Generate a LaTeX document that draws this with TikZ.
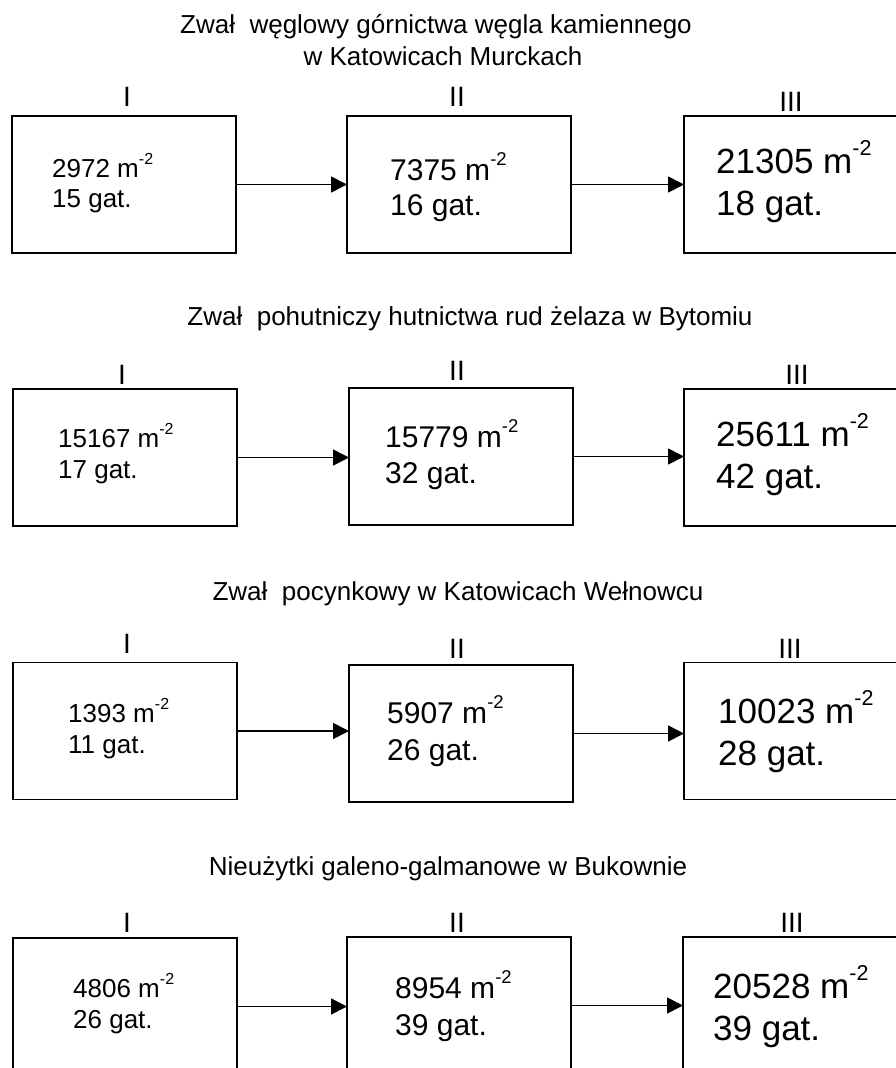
\documentclass[tikz,border=0pt]{standalone}
\usepackage{fontspec}
\setmainfont{Liberation Sans}
\usetikzlibrary{arrows.meta}
\newcommand\msq[1]{m\raisebox{0.5em}{\fontsize{#1}{#1}\selectfont -2}}
\begin{document}
\begin{tikzpicture}[x=1pt,y=-1pt,
  box/.style={draw, line width=1.8pt, minimum width=224pt, minimum height=137pt, inner sep=0pt, outer sep=0pt},
  ttl/.style={font=\fontsize{26}{31}\selectfont, anchor=base, inner sep=0pt},
  lbl/.style={font=\fontsize{28}{32}\selectfont, anchor=base, inner sep=0pt},
  tA/.style={font=\fontsize{26}{31}\selectfont, anchor=base west, inner sep=0pt},
  tB/.style={font=\fontsize{30}{36}\selectfont, anchor=base west, inner sep=0pt},
  tC/.style={font=\fontsize{35}{42}\selectfont, anchor=base west, inner sep=0pt},
  arr/.style={line width=1.7pt, -{Triangle[length=16pt,width=16pt]}}]
\useasboundingbox (0,0) rectangle (896,1068);
\clip (0,0) rectangle (896,1068);
\fill[white] (0,0) rectangle (896,1068);

% titles
\node[ttl] (t1a) at (436,33) {Zwał~ węglowy górnictwa węgla kamiennego};
\node[ttl] (t1b) at (443,65) {w Katowicach Murckach};
\node[ttl] (t2) at (470,325) {Zwał~ pohutniczy hutnictwa rud żelaza w Bytomiu};
\node[ttl] (t3) at (458,600) {Zwał~ pocynkowy w Katowicach Wełnowcu};
\node[ttl] (t4) at (448,875) {Nieużytki galeno-galmanowe w Bukownie};

% boxes
\node[box] (b11) at (124,184.5) {};
\node[box] (b12) at (459,184.5) {};
\node[box] (b13) at (796,184.5) {};
\node[box] (b21) at (125,457.5) {};
\node[box] (b22) at (461,456.5) {};
\node[box] (b23) at (796,457.5) {};
\node[box] (b31) at (125,731) {};
\node[box] (b32) at (461,733.5) {};
\node[box] (b33) at (796,731) {};
\node[box] (b41) at (125,1006.5) {};
\node[box] (b42) at (459,1005.5) {};
\node[box] (b43) at (795,1005.5) {};

% stage labels
\node[lbl] (l11) at (127,106) {I};
\node[lbl] (l12) at (457,106) {II};
\node[lbl] (l13) at (791,111) {III};
\node[lbl] (l21) at (122,384) {I};
\node[lbl] (l22) at (457,380) {II};
\node[lbl] (l23) at (797,384) {III};
\node[lbl] (l31) at (127,653) {I};
\node[lbl] (l32) at (457,658) {II};
\node[lbl] (l33) at (790,658) {III};
\node[lbl] (l41) at (127,932) {I};
\node[lbl] (l42) at (457,932) {II};
\node[lbl] (l43) at (792,932) {III};

% box texts
\node[tA] (x11a) at (52,177) {2972 \msq{16}};
\node[tA] (x11b) at (52,207) {15 gat.};
\node[tB] (x12a) at (390,180) {7375 \msq{18.5}};
\node[tB] (x12b) at (390,215) {16 gat.};
\node[tC] (x13a) at (716,173) {21305 \msq{21.5}};
\node[tC] (x13b) at (716,215) {18 gat.};

\node[tA] (x21a) at (58,447) {15167 \msq{16}};
\node[tA] (x21b) at (58,478) {17 gat.};
\node[tB] (x22a) at (385,447) {15779 \msq{18.5}};
\node[tB] (x22b) at (385,483) {32 gat.};
\node[tC] (x23a) at (716,446) {25611 \msq{21.5}};
\node[tC] (x23b) at (716,488) {42 gat.};

\node[tA] (x31a) at (68,722) {1393 \msq{16}};
\node[tA] (x31b) at (68,753) {11 gat.};
\node[tB] (x32a) at (387,723) {5907 \msq{18.5}};
\node[tB] (x32b) at (387,760) {26 gat.};
\node[tC] (x33a) at (718,723) {10023 \msq{21.5}};
\node[tC] (x33b) at (718,765) {28 gat.};

\node[tA] (x41a) at (73,997) {4806 \msq{16}};
\node[tA] (x41b) at (73,1028) {26 gat.};
\node[tB] (x42a) at (395,998) {8954 \msq{18.5}};
\node[tB] (x42b) at (395,1035) {39 gat.};
\node[tC] (x43a) at (713,998) {20528 \msq{21.5}};
\node[tC] (x43b) at (713,1040) {39 gat.};

% arrows (horizontal, from box to box)
\draw[arr] (b11.east) -- (b11.east -| b12.west);
\draw[arr] (b12.east) -- (b12.east -| b13.west);
\draw[arr] (b21.east) -- (b21.east -| b22.west);
\draw[arr] (b22.east) -- (b22.east -| b23.west);
\draw[arr] (b31.east) -- (b31.east -| b32.west);
\draw[arr] (b32.east) -- (b32.east -| b33.west);
\draw[arr] (b41.east) -- (b41.east -| b42.west);
\draw[arr] (b42.east) -- (b42.east -| b43.west);
\end{tikzpicture}
\end{document}
